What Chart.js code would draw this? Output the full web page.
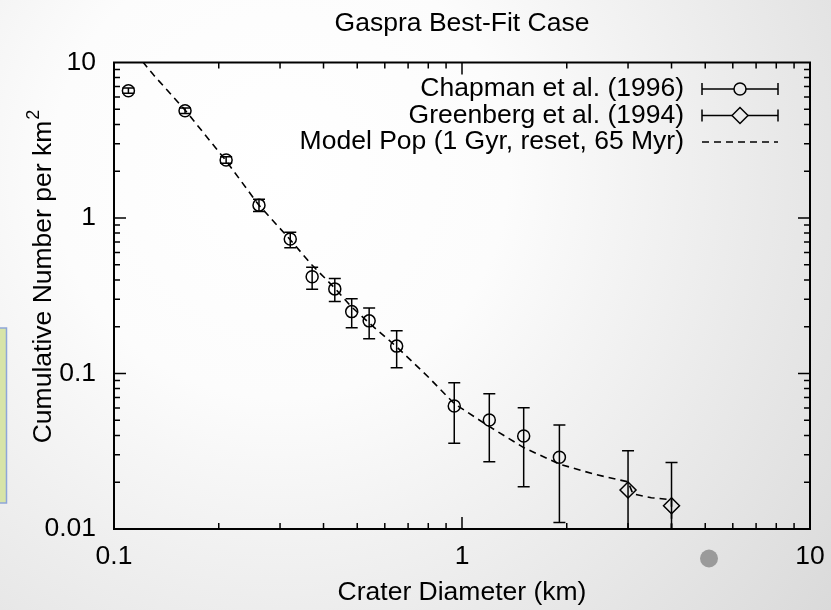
<!DOCTYPE html>
<html>
<head>
<meta charset="utf-8">
<title>Gaspra Best-Fit Case</title>
<script src="https://cdn.jsdelivr.net/npm/chart.js@4.4.1/dist/chart.umd.min.js"></script>
<style>
  html, body { margin: 0; padding: 0; background: #fff; }
  canvas { display: block; }
</style>
</head>
<body>
<canvas id="craterChart" width="831" height="610"></canvas>
<script>
// crater counts, cumulative number per km^2 vs crater diameter (km)
const chapmanDiam = [0.110, 0.160, 0.210, 0.261, 0.321, 0.371, 0.431, 0.482, 0.541, 0.649, 0.950, 1.198, 1.504, 1.905];
const chapmanN    = [6.59, 4.90, 2.36, 1.21, 0.733, 0.419, 0.350, 0.250, 0.218, 0.150, 0.0618, 0.0502, 0.0396, 0.0289];
const chapmanHi   = [6.85, 5.10, 2.48, 1.32, 0.809, 0.482, 0.409, 0.302, 0.264, 0.188, 0.0873, 0.0741, 0.0603, 0.0467];
const chapmanLo   = [6.35, 4.70, 2.25, 1.10, 0.644, 0.348, 0.290, 0.197, 0.167, 0.109, 0.0356, 0.0271, 0.0187, 0.0110];

const greenbergDiam = [3.0, 4.0];
const greenbergN    = [0.0178, 0.0141];
const greenbergHi   = [0.0319, 0.0268];
const greenbergLo   = [0.001, 0.001];

// model population curve (drops to zero past 4 km)
const modelDiam = [0.115, 0.13, 0.16, 0.21, 0.26, 0.32, 0.37, 0.43, 0.48, 0.54, 0.65, 0.8, 0.95, 1.2, 1.5, 1.9, 2.4, 3.0, 3.1, 3.5, 4.0, 4.0];
const modelN    = [11.6, 8.3, 4.95, 2.33, 1.22, 0.73, 0.50, 0.356, 0.27, 0.212, 0.148, 0.095, 0.064, 0.0455, 0.0335, 0.0262, 0.0225, 0.0201, 0.0168, 0.0159, 0.0154, 0.001];

const xTicks = [0.1, 1, 10];
const xTickLabels = ['0.1', '1', '10'];
const yTicks = [0.01, 0.1, 1, 10];
const yTickLabels = ['0.01', '0.1', '1', '10'];

const labels = ['Chapman et al. (1996)', 'Greenberg et al. (1994)', 'Model Pop (1 Gyr, reset, 65 Myr)'];

const FONT = "'Liberation Sans', Arial, Helvetica, sans-serif";
const FS = 26.5;

const toPoints = (xs, ys) => xs.map((x, i) => ({ x: x, y: ys[i] }));

// slide background + decorations
const background = {
    id: 'background',
    beforeDraw(chart) {
        const { ctx, width, height } = chart;
        ctx.save();
        const g = ctx.createRadialGradient(280, 170, 0, 280, 170, 760);
        g.addColorStop(0, '#ffffff');
        g.addColorStop(0.3, '#fcfcfc');
        g.addColorStop(1, '#d6d6d6');
        ctx.fillStyle = g;
        ctx.fillRect(0, 0, width, height);

        ctx.fillStyle = '#d7e4a8';
        ctx.strokeStyle = '#8ea6d8';
        ctx.lineWidth = 1.5;
        ctx.fillRect(-5, 328, 11.5, 175);
        ctx.strokeRect(-5, 328, 11.5, 175);

        ctx.fillStyle = '#9a9a9a';
        ctx.beginPath();
        ctx.arc(709, 558.5, 9, 0, Math.PI * 2);
        ctx.fill();
        ctx.restore();
    }
};

// vertical error bars with caps
const errorBars = {
    id: 'errorBars',
    beforeDatasetsDraw(chart) {
        const { ctx, chartArea, scales: { x, y } } = chart;
        const cap = 6;
        ctx.save();
        ctx.beginPath();
        ctx.rect(chartArea.left, chartArea.top, chartArea.width, chartArea.height);
        ctx.clip();
        ctx.strokeStyle = '#000';
        ctx.lineWidth = 1.5;
        const draw = (xs, lo, hi) => xs.forEach((d, i) => {
            const px = x.getPixelForValue(d);
            const top = y.getPixelForValue(hi[i]);
            const bot = y.getPixelForValue(lo[i]);
            ctx.beginPath();
            ctx.moveTo(px, top); ctx.lineTo(px, bot);
            ctx.moveTo(px - cap, top); ctx.lineTo(px + cap, top);
            ctx.moveTo(px - cap, bot); ctx.lineTo(px + cap, bot);
            ctx.stroke();
        });
        draw(chapmanDiam, chapmanLo, chapmanHi);
        draw(greenbergDiam, greenbergLo, greenbergHi);
        ctx.restore();
    }
};

// gnuplot style border with inward ticks on all sides
const frame = {
    id: 'frame',
    afterDatasetsDraw(chart) {
        const { ctx, chartArea: a, scales: { x, y } } = chart;
        ctx.save();
        ctx.strokeStyle = '#000';
        ctx.lineWidth = 1.5;
        ctx.beginPath();
        for (let e = -1; e <= 0; e++) {
            for (let m = 1; m <= 9; m++) {
                const px = x.getPixelForValue(m * Math.pow(10, e));
                const len = m === 1 ? 12 : 6;
                ctx.moveTo(px, a.bottom); ctx.lineTo(px, a.bottom - len);
                ctx.moveTo(px, a.top); ctx.lineTo(px, a.top + len);
            }
        }
        for (let e = -2; e <= 0; e++) {
            for (let m = 1; m <= 9; m++) {
                const py = y.getPixelForValue(m * Math.pow(10, e));
                const len = m === 1 ? 12 : 6;
                ctx.moveTo(a.left, py); ctx.lineTo(a.left + len, py);
                ctx.moveTo(a.right, py); ctx.lineTo(a.right - len, py);
            }
        }
        ctx.stroke();
        ctx.lineWidth = 2;
        ctx.strokeRect(a.left, a.top, a.right - a.left, a.bottom - a.top);
        ctx.restore();
    }
};

// title, axis titles and key
const annotations = {
    id: 'annotations',
    afterDraw(chart) {
        const { ctx } = chart;
        ctx.save();
        ctx.fillStyle = '#000';
        ctx.font = `${FS}px ${FONT}`;
        ctx.textBaseline = 'middle';
        ctx.textAlign = 'center';
        ctx.fillText('Gaspra Best-Fit Case', 462, 24);
        ctx.fillText('Crater Diameter (km)', 462, 593);

        // y title with superscript
        ctx.save();
        ctx.translate(44, 277);
        ctx.rotate(-Math.PI / 2);
        ctx.textAlign = 'left';
        const main = 'Cumulative Number per km';
        const wMain = ctx.measureText(main).width;
        ctx.font = `18px ${FONT}`;
        const wSup = ctx.measureText('2').width;
        const start = -(wMain + wSup) / 2;
        ctx.font = `${FS}px ${FONT}`;
        ctx.fillText(main, start, 0);
        ctx.font = `18px ${FONT}`;
        ctx.fillText('2', start + wMain + 1, -10);
        ctx.restore();

        // key
        const rows = [89, 115.5, 142];
        const x0 = 702, x1 = 778, xm = 740;
        ctx.font = `${FS}px ${FONT}`;
        ctx.textAlign = 'right';
        ctx.strokeStyle = '#000';
        ctx.lineWidth = 1.5;
        labels.forEach((t, i) => ctx.fillText(t, 684, rows[i]));

        // Chapman sample
        let yy = rows[0];
        ctx.beginPath();
        ctx.moveTo(x0, yy); ctx.lineTo(xm - 6, yy);
        ctx.moveTo(xm + 6, yy); ctx.lineTo(x1, yy);
        ctx.moveTo(x0, yy - 6); ctx.lineTo(x0, yy + 6);
        ctx.moveTo(x1, yy - 6); ctx.lineTo(x1, yy + 6);
        ctx.stroke();
        ctx.beginPath();
        ctx.arc(xm, yy, 6, 0, Math.PI * 2);
        ctx.stroke();

        // Greenberg sample
        yy = rows[1];
        ctx.beginPath();
        ctx.moveTo(x0, yy); ctx.lineTo(xm - 8, yy);
        ctx.moveTo(xm + 8, yy); ctx.lineTo(x1, yy);
        ctx.moveTo(x0, yy - 6); ctx.lineTo(x0, yy + 6);
        ctx.moveTo(x1, yy - 6); ctx.lineTo(x1, yy + 6);
        ctx.stroke();
        ctx.beginPath();
        ctx.moveTo(xm - 8, yy); ctx.lineTo(xm, yy - 8); ctx.lineTo(xm + 8, yy); ctx.lineTo(xm, yy + 8);
        ctx.closePath();
        ctx.stroke();

        // model sample
        yy = rows[2];
        ctx.setLineDash([7, 5]);
        ctx.beginPath();
        ctx.moveTo(x0, yy); ctx.lineTo(x1, yy);
        ctx.stroke();
        ctx.restore();
    }
};

const ctx = document.getElementById('craterChart').getContext('2d');
new Chart(ctx, {
    type: 'scatter',
    data: {
        datasets: [
            {
                label: labels[0],
                data: toPoints(chapmanDiam, chapmanN),
                showLine: false,
                pointStyle: 'circle',
                pointRadius: 6,
                pointBorderWidth: 1.5,
                pointBorderColor: '#000',
                pointBackgroundColor: 'rgba(0,0,0,0)'
            },
            {
                label: labels[1],
                data: toPoints(greenbergDiam, greenbergN),
                showLine: false,
                pointStyle: 'rectRot',
                pointRadius: 8,
                pointBorderWidth: 1.5,
                pointBorderColor: '#000',
                pointBackgroundColor: 'rgba(0,0,0,0)'
            },
            {
                label: labels[2],
                data: toPoints(modelDiam, modelN),
                showLine: true,
                pointRadius: 0,
                borderColor: '#000',
                borderWidth: 1.6,
                borderDash: [7, 5],
                fill: false,
                tension: 0
            }
        ]
    },
    options: {
        responsive: false,
        animation: false,
        events: [],
        layout: { padding: { top: 62.5, right: 21, left: 0, bottom: 0 } },
        plugins: {
            legend: { display: false },
            title: { display: false },
            tooltip: { enabled: false }
        },
        scales: {
            x: {
                type: 'logarithmic',
                min: 0.1,
                max: 10,
                grid: { display: false, drawTicks: false },
                border: { display: false },
                afterBuildTicks: s => { s.ticks = xTicks.map(v => ({ value: v })); },
                afterFit: s => { s.height = 81; s.paddingLeft = 0; s.paddingRight = 0; },
                ticks: {
                    padding: 12,
                    color: '#000',
                    font: { family: FONT, size: FS },
                    maxRotation: 0,
                    autoSkip: false,
                    callback: (v, i) => xTickLabels[i]
                }
            },
            y: {
                type: 'logarithmic',
                min: 0.01,
                max: 10,
                grid: { display: false, drawTicks: false },
                border: { display: false },
                afterBuildTicks: s => { s.ticks = yTicks.map(v => ({ value: v })); },
                afterFit: s => { s.width = 114; s.paddingTop = 0; s.paddingBottom = 0; },
                ticks: {
                    padding: 18,
                    color: '#000',
                    font: { family: FONT, size: FS },
                    autoSkip: false,
                    callback: (v, i) => yTickLabels[i]
                }
            }
        }
    },
    plugins: [background, errorBars, frame, annotations]
});
</script>
</body>
</html>
